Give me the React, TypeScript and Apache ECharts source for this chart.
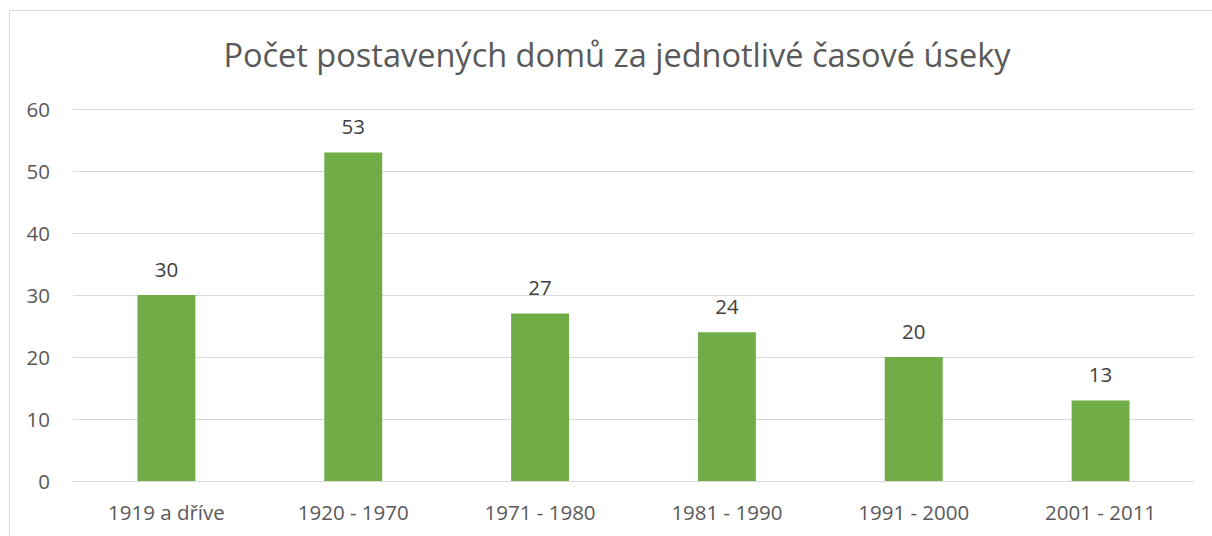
import React, { useEffect, useRef } from "react";
import * as echarts from "echarts";

const title = "Počet postavených domů za jednotlivé časové úseky";
const categories = ["1919 a dříve", "1920 - 1970", "1971 - 1980", "1981 - 1990", "1991 - 2000", "2001 - 2011"];
const values = [30, 53, 27, 24, 20, 13];

export default function App() {
  const ref = useRef<HTMLDivElement>(null);
  useEffect(() => {
    const chart = echarts.init(ref.current!, null, { renderer: "svg" });
    chart.setOption({
      animation: false,
      backgroundColor: "#fff",
      textStyle: { fontFamily: "Open Sans" },
      title: {
        text: title,
        left: 612,
        textAlign: "center",
        top: 33,
        textStyle: { fontSize: 32.5, fontWeight: "normal", color: "#595959", fontFamily: "Open Sans" },
      },
      graphic: [
        {
          type: "rect",
          shape: { x: 9.5, y: 10.5, width: 1300, height: 600 },
          style: { fill: "none", stroke: "#d9d9d9", lineWidth: 1 },
          silent: true,
        },
      ],
      grid: { left: 73, right: 18, top: 109, bottom: 55, containLabel: false },
      xAxis: {
        type: "category",
        data: categories,
        axisLine: { show: true, lineStyle: { color: "#d9d9d9", width: 1 } },
        axisTick: { show: false },
        axisLabel: { color: "#595959", fontSize: 20.5, margin: 20, fontFamily: "Open Sans" },
      },
      yAxis: {
        type: "value",
        min: 0,
        max: 60,
        interval: 10,
        axisLine: { show: false },
        axisTick: { show: false },
        splitLine: { lineStyle: { color: "#d9d9d9", width: 1 } },
        axisLabel: { color: "#595959", fontSize: 20.5, margin: 23, fontFamily: "Open Sans" },
      },
      series: [
        {
          type: "bar",
          data: values,
          barWidth: "31%",
          itemStyle: { color: "#70ad47" },
          label: {
            show: true,
            position: "top",
            distance: 16,
            color: "#404040",
            fontSize: 20.5,
            fontFamily: "Open Sans",
          },
        },
      ],
    });
    return () => chart.dispose();
  }, []);
  return <div ref={ref} style={{ position: "absolute", left: 0, top: 0, width: 1212, height: 536 }} />;
}
